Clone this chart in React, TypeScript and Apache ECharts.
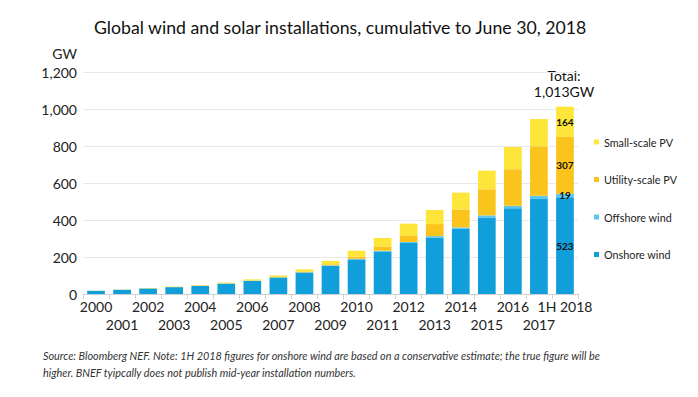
import React, { useEffect, useRef } from "react";
import * as echarts from "echarts";

const categories = [
  "2000", "2001", "2002", "2003", "2004", "2005", "2006", "2007", "2008", "2009",
  "2010", "2011", "2012", "2013", "2014", "2015", "2016", "2017", "1H 2018",
];
const onshoreWind = [17, 23, 30, 37, 44, 56, 71, 89, 116, 153, 187, 230, 276, 306, 352, 413, 463, 513, 523];
const offshoreWind = [0.1, 0.2, 0.3, 0.5, 0.6, 0.7, 0.9, 1.1, 1.5, 2, 3, 4, 5, 7, 8, 12, 14, 18, 19];
const utilityPV = [0.1, 0.2, 0.3, 0.4, 0.6, 0.8, 1.2, 2, 4, 6, 12, 23, 36, 65, 97, 141, 197, 267, 307];
const smallPV = [1, 1.5, 2, 2.5, 3, 4, 6, 8, 12, 18, 32, 46, 63, 76, 91, 101, 120, 148, 164];
const yTicks = { min: 0, max: 1200, interval: 200 };
const totalLabel = ["Total:", "1,013GW"];

const FONT = "Lato, 'Open Sans', sans-serif";

export default function App() {
  const ref = useRef<HTMLDivElement>(null);
  useEffect(() => {
    if (!ref.current) return;
    const chart = echarts.init(ref.current, undefined, { renderer: "svg" });
    const last = categories.length - 1;
    const lbl = {
      show: true,
      position: "inside" as const,
      color: "#111",
      fontFamily: FONT,
      fontWeight: "bold" as const,
      fontSize: 10,
      formatter: (p: any) => (p.dataIndex === last ? String(p.value) : ""),
    };
    const mk = (name: string, data: number[], color: string) => ({
      name,
      type: "bar" as const,
      stack: "total",
      data,
      barWidth: "68%",
      itemStyle: { color },
      label: lbl,
    });
    chart.setOption({
      animation: false,
      textStyle: { fontFamily: FONT },
      title: {
        text: "Global wind and solar installations, cumulative to June 30, 2018",
        left: 89,
        top: 13,
        textStyle: { fontFamily: FONT, fontSize: 17.7, fontWeight: "normal", color: "#111" },
      },
      grid: { left: 83, right: 120, top: 72, bottom: 103, containLabel: false },
      legend: {
        orient: "vertical",
        left: 589,
        top: 130,
        icon: "rect",
        itemWidth: 5,
        itemHeight: 5,
        itemGap: 23.5,
        data: ["Small-scale PV", "Utility-scale PV", "Offshore wind", "Onshore wind"],
        textStyle: { fontFamily: FONT, fontSize: 10.8, color: "#222", lineHeight: 14 },
        selectedMode: false,
      },
      xAxis: {
        type: "category",
        data: categories,
        axisLine: { show: true, lineStyle: { color: "#d0d0d0" } },
        axisTick: { show: true, lineStyle: { color: "#d0d0d0" } },
        axisLabel: {
          interval: 0,
          margin: 3,
          fontFamily: FONT,
          fontSize: 14,
          lineHeight: 18,
          color: "#222",
          formatter: (v: string, i: number) => (i % 2 === 1 ? "\n" + v : v),
        },
      },
      yAxis: {
        type: "value",
        min: yTicks.min,
        max: yTicks.max,
        interval: yTicks.interval,
        axisLine: { show: false },
        axisTick: { show: false },
        splitLine: { lineStyle: { color: "#e8e8e8" } },
        axisLabel: {
          margin: 6,
          fontFamily: FONT,
          fontSize: 14,
          color: "#222",
          formatter: (v: number) => v.toLocaleString("en-US"),
        },
      },
      graphic: [
        {
          type: "text",
          x: 77,
          y: 53,
          style: { text: "GW", fontFamily: FONT, fontSize: 14, fill: "#222", align: "right", verticalAlign: "middle" },
        },
        {
          type: "text",
          x: 564,
          y: 83,
          style: {
            text: totalLabel.join("\n"),
            fontFamily: FONT,
            fontSize: 14,
            lineHeight: 16,
            fill: "#111",
            align: "center",
            verticalAlign: "middle",
          },
        },
        {
          type: "text",
          x: 43,
          y: 347,
          style: {
            text:
              "Source: Bloomberg NEF. Note: 1H 2018 figures for onshore wind are based on a conservative estimate; the true figure will be\nhigher. BNEF tyipcally does not publish mid-year installation numbers.",
            fontFamily: FONT,
            fontSize: 10.85,
            fontStyle: "italic",
            lineHeight: 17,
            fill: "#333",
          },
        },
      ],
      series: [
        mk("Onshore wind", onshoreWind, "#109fda"),
        mk("Offshore wind", offshoreWind, "#5ec6ec"),
        mk("Utility-scale PV", utilityPV, "#fbc41c"),
        mk("Small-scale PV", smallPV, "#fde53a"),
      ],
    });
    return () => chart.dispose();
  }, []);
  return (
    <div
      ref={ref}
      style={{ position: "absolute", left: 0, top: 0, width: 698, height: 397, background: "#fff" }}
    />
  );
}
